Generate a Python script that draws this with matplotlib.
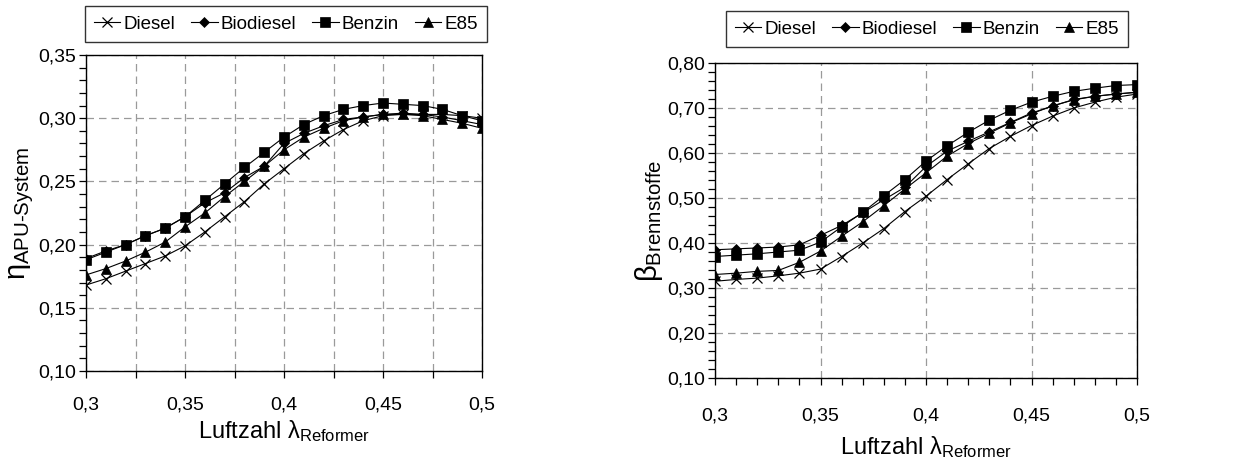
import matplotlib
matplotlib.use("Agg")
import matplotlib.pyplot as plt
from matplotlib.ticker import MultipleLocator, FuncFormatter

plt.rcParams['font.family'] = ['Liberation Sans', 'DejaVu Sans']
plt.rcParams['mathtext.fontset'] = 'custom'
plt.rcParams['mathtext.rm'] = 'Liberation Sans'
plt.rcParams['mathtext.it'] = 'Liberation Sans'
plt.rcParams['mathtext.sf'] = 'Liberation Sans'

# Air ratio of the reformer
lam = [0.30, 0.31, 0.32, 0.33, 0.34, 0.35, 0.36, 0.37, 0.38, 0.39, 0.40,
       0.41, 0.42, 0.43, 0.44, 0.45, 0.46, 0.47, 0.48, 0.49, 0.50]

fuels = ["Diesel", "Biodiesel", "Benzin", "E85"]
markers = {"Diesel": "x", "Biodiesel": "D", "Benzin": "s", "E85": "^"}
msizes = {"Diesel": 6.5, "Biodiesel": 4.8, "Benzin": 6.5, "E85": 7}

# System efficiency of the APU
eta_diesel = [0.168, 0.173, 0.179, 0.185, 0.191, 0.199, 0.210, 0.222, 0.234, 0.248, 0.260,
              0.272, 0.282, 0.291, 0.298, 0.302, 0.303, 0.303, 0.303, 0.302, 0.300]
eta_biodiesel = [0.189, 0.195, 0.200, 0.207, 0.213, 0.222, 0.233, 0.241, 0.253, 0.262, 0.280,
                 0.288, 0.294, 0.299, 0.301, 0.303, 0.304, 0.303, 0.301, 0.298, 0.295]
eta_benzin = [0.188, 0.194, 0.200, 0.207, 0.213, 0.222, 0.235, 0.248, 0.261, 0.273, 0.285,
              0.295, 0.302, 0.307, 0.310, 0.312, 0.311, 0.310, 0.307, 0.302, 0.298]
eta_e85 = [0.176, 0.181, 0.187, 0.194, 0.202, 0.214, 0.225, 0.238, 0.250, 0.262, 0.275,
           0.285, 0.292, 0.298, 0.301, 0.303, 0.303, 0.302, 0.299, 0.296, 0.292]

# Fuel utilisation
beta_diesel = [0.315, 0.319, 0.322, 0.327, 0.333, 0.342, 0.370, 0.400, 0.432, 0.470, 0.504,
               0.541, 0.576, 0.610, 0.637, 0.661, 0.682, 0.700, 0.713, 0.724, 0.731]
beta_biodiesel = [0.385, 0.387, 0.389, 0.391, 0.396, 0.417, 0.439, 0.467, 0.496, 0.524, 0.570,
                  0.604, 0.626, 0.647, 0.668, 0.689, 0.704, 0.719, 0.726, 0.731, 0.735]
beta_benzin = [0.370, 0.373, 0.376, 0.380, 0.384, 0.402, 0.436, 0.468, 0.505, 0.541, 0.582,
               0.616, 0.646, 0.673, 0.695, 0.713, 0.726, 0.737, 0.744, 0.750, 0.752]
beta_e85 = [0.330, 0.333, 0.337, 0.339, 0.357, 0.382, 0.415, 0.447, 0.483, 0.520, 0.556,
            0.593, 0.621, 0.644, 0.667, 0.687, 0.705, 0.718, 0.726, 0.731, 0.735]

eta = {"Diesel": eta_diesel, "Biodiesel": eta_biodiesel, "Benzin": eta_benzin, "E85": eta_e85}
beta = {"Diesel": beta_diesel, "Biodiesel": beta_biodiesel, "Benzin": beta_benzin, "E85": beta_e85}

W, H = 1255, 466
fig = plt.figure(figsize=(W / 100, H / 100), dpi=100)

ax1 = fig.add_axes([86 / W, 1 - 371 / H, 396 / W, 316 / H])
ax2 = fig.add_axes([715 / W, 1 - 378 / H, 422 / W, 315 / H])


def comma(fmt):
    return FuncFormatter(lambda v, p: (fmt % v).replace(".", ","))


def xlabel_fmt(v, p):
    s = ("%.3f" % v).rstrip("0").rstrip(".")
    return s.replace(".", ",")


grid_kw = dict(color="#9a9a9a", linestyle=(0, (6, 4)), linewidth=0.9)

for ax, data in ((ax1, eta), (ax2, beta)):
    for f in fuels:
        ax.plot(lam, data[f], color="black", linewidth=0.8,
                marker=markers[f], markersize=msizes[f],
                markerfacecolor="black", markeredgecolor="black",
                markeredgewidth=0.9 if f == "Diesel" else 0.5, label=f, zorder=3)
    ax.set_xlim(0.3, 0.5)
    for s in ax.spines.values():
        s.set_linewidth(1.0)
        s.set_color("black")
    ax.tick_params(which="both", direction="out", length=5, width=0.9,
                   labelsize=14, colors="black")
    ax.set_axisbelow(True)

# Left panel: APU system efficiency
ax1.set_ylim(0.10, 0.35)
ax1.xaxis.set_major_locator(MultipleLocator(0.025))
ax1.xaxis.set_major_formatter(FuncFormatter(
    lambda v, p: xlabel_fmt(v, p) if abs(round(v / 0.05) * 0.05 - v) < 1e-6 else ""))
ax1.yaxis.set_major_locator(MultipleLocator(0.05))
ax1.yaxis.set_minor_locator(MultipleLocator(0.01))
ax1.yaxis.set_major_formatter(comma("%.2f"))
ax1.tick_params(axis="x", pad=13)
ax1.tick_params(axis="y", pad=2)
ax1.grid(True, which="major", **grid_kw)
ax1.set_xlabel(r"Luftzahl $\lambda_{\mathregular{Reformer}}$", fontsize=17, labelpad=4)
ax1.set_ylabel(r"$\eta_{\mathregular{APU\text{-}System}}$", fontsize=21, labelpad=2)

# Right panel: fuel utilisation
ax2.set_ylim(0.10, 0.80)
ax2.xaxis.set_major_locator(MultipleLocator(0.05))
ax2.xaxis.set_minor_locator(MultipleLocator(0.01))
ax2.xaxis.set_major_formatter(FuncFormatter(xlabel_fmt))
ax2.yaxis.set_major_locator(MultipleLocator(0.10))
ax2.yaxis.set_minor_locator(MultipleLocator(0.02))
ax2.yaxis.set_major_formatter(comma("%.2f"))
ax2.tick_params(axis="x", pad=16)
ax2.tick_params(axis="y", pad=2)
ax2.grid(True, which="major", **grid_kw)
ax2.set_xlabel(r"Luftzahl $\lambda_{\mathregular{Reformer}}$", fontsize=17, labelpad=7)
ax2.set_ylabel(r"$\beta_{\mathregular{Brennstoffe}}$", fontsize=21, labelpad=2)

leg_kw = dict(ncol=4, loc="center", fontsize=13.5, frameon=True, fancybox=False,
              edgecolor="black", handlelength=1.4, handletextpad=0.17,
              columnspacing=0.85, borderpad=0.5, borderaxespad=0)
l1 = fig.legend(handles=ax1.get_lines(), labels=fuels,
                bbox_to_anchor=(286 / W, 1 - 24 / H), **leg_kw)
l2 = fig.legend(handles=ax2.get_lines(), labels=fuels,
                bbox_to_anchor=(927 / W, 1 - 29 / H), **leg_kw)
for lg in (l1, l2):
    lg.get_frame().set_linewidth(1.0)

fig.savefig("out.png", dpi=100)
